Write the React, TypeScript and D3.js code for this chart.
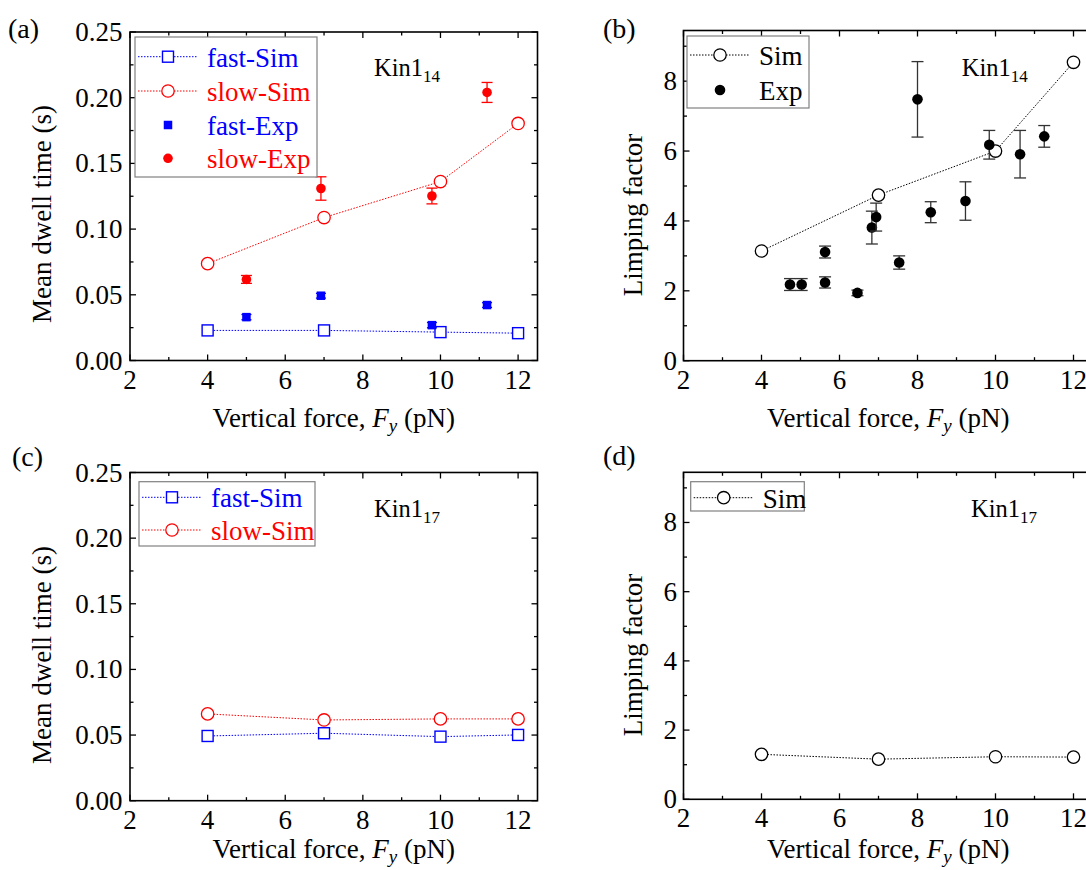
import React from 'react';
import * as d3 from 'd3';

// ---------- data ----------
const xMajor = [2, 4, 6, 8, 10, 12];
const xMinor = [3, 5, 7, 9, 11];
const dwellMajor = [0, 0.05, 0.1, 0.15, 0.2, 0.25];
const dwellMinor = [0.025, 0.075, 0.125, 0.175, 0.225];
const limpMajor = [0, 2, 4, 6, 8];
const limpMinor = [1, 3, 5, 7, 9];

const simForce = [4, 7, 10, 12];

// (a) Kin1_14 dwell times
const aFastSim = [0.0229, 0.0229, 0.0216, 0.0208];
const aSlowSim = [0.0737, 0.1088, 0.1362, 0.1804];
const aExpForce = [5.0, 6.92, 9.78, 11.2];
const aFastExp = [0.033, 0.0493, 0.0269, 0.0422];
const aFastExpErr = [0.002, 0.0018, 0.002, 0.0018];
const aSlowExp = [0.0617, 0.1309, 0.1252, 0.204];
const aSlowExpErr = [0.003, 0.0089, 0.006, 0.0076];

// (b) Kin1_14 limping factor
const bSim = [3.14, 4.74, 6.0, 8.54];
const bExpForce = [4.73, 5.03, 5.63, 5.63, 6.46, 6.83, 6.94, 7.53, 8.0, 8.34, 9.23, 9.84, 10.63, 11.25];
const bExp = [2.18, 2.18, 3.11, 2.24, 1.94, 3.81, 4.11, 2.81, 7.48, 4.25, 4.57, 6.18, 5.91, 6.42];
const bExpErr = [0.17, 0.17, 0.17, 0.16, 0.08, 0.47, 0.4, 0.19, 1.08, 0.3, 0.55, 0.41, 0.68, 0.31];

// (c) Kin1_17 dwell times
const cFastSim = [0.0493, 0.0514, 0.0488, 0.0501];
const cSlowSim = [0.0661, 0.0615, 0.0623, 0.0623];

// (d) Kin1_17 limping factor
const dSim = [1.3, 1.16, 1.23, 1.22];

// ---------- styling ----------
const FONT = '"Liberation Serif", "Times New Roman", Times, serif';
const BLUE = '#0000ff';
const RED = '#ff0000';
const FS = 27;

type Scale = d3.ScaleLinear<number, number>;
type MarkerType = 'openSquare' | 'openCircle' | 'filledSquare' | 'filledCircle';

function Marker({ type, cx, cy, color, r }: { type: MarkerType; cx: number; cy: number; color: string; r?: number }) {
  if (type === 'openSquare') {
    const s = 11;
    return <rect x={cx - s / 2} y={cy - s / 2} width={s} height={s} fill="#fff" stroke={color} strokeWidth={1.4} />;
  }
  if (type === 'openCircle') {
    return <circle cx={cx} cy={cy} r={r ?? 6.2} fill="#fff" stroke={color} strokeWidth={1.3} />;
  }
  if (type === 'filledSquare') {
    const s = 8.5;
    return <rect x={cx - s / 2} y={cy - s / 2} width={s} height={s} fill={color} />;
  }
  return <circle cx={cx} cy={cy} r={r ?? 5} fill={color} />;
}

function Axes({ x, y, yMajor, yMinor, yFmt, yLabelGap }: { x: Scale; y: Scale; yMajor: number[]; yMinor: number[]; yFmt: (v: number) => string; yLabelGap: number }) {
  const [x0, x1] = x.range();
  const [y0, y1] = y.range();
  const L = 6;
  const l = 3.5;
  const tk = { stroke: '#000', strokeWidth: 1.3 };
  return (
    <g>
      {xMajor.concat(xMinor).map((v) => {
        const len = xMajor.includes(v) ? L : l;
        return (
          <g key={'xt' + v}>
            <line x1={x(v)} x2={x(v)} y1={y0} y2={y0 - len} {...tk} />
            <line x1={x(v)} x2={x(v)} y1={y1} y2={y1 + len} {...tk} />
          </g>
        );
      })}
      {yMajor.concat(yMinor).map((v) => {
        const len = yMajor.includes(v) ? L : l;
        return (
          <g key={'yt' + v}>
            <line x1={x0} x2={x0 + len} y1={y(v)} y2={y(v)} {...tk} />
            <line x1={x1} x2={x1 - len} y1={y(v)} y2={y(v)} {...tk} />
          </g>
        );
      })}
      <rect x={x0} y={y1} width={x1 - x0} height={y0 - y1} fill="none" stroke="#000" strokeWidth={1.6} />
      {xMajor.map((v) => (
        <text key={'xl' + v} x={x(v)} y={y0 + 28} textAnchor="middle" fontSize={FS} fontFamily={FONT}>
          {v}
        </text>
      ))}
      {yMajor.map((v) => (
        <text key={'yl' + v} x={x0 - yLabelGap} y={y(v) + 9} textAnchor="end" fontSize={FS} fontFamily={FONT}>
          {yFmt(v)}
        </text>
      ))}
    </g>
  );
}

function XTitle({ cx, y }: { cx: number; y: number }) {
  return (
    <text x={cx} y={y} textAnchor="middle" fontSize={FS} fontFamily={FONT}>
      Vertical force,{' '}
      <tspan fontStyle="italic">F</tspan>
      <tspan fontStyle="italic" fontSize={19} dy={5}>y</tspan>
      <tspan dy={-5}> (pN)</tspan>
    </text>
  );
}

function YTitle({ x, cy, text }: { x: number; cy: number; text: string }) {
  return (
    <text transform={`translate(${x},${cy}) rotate(-90)`} textAnchor="middle" fontSize={FS} fontFamily={FONT}>
      {text}
    </text>
  );
}

function KinLabel({ x, y, sub }: { x: number; y: number; sub: string }) {
  return (
    <text x={x} y={y} fontSize={24.5} fontFamily={FONT}>
      Kin1
      <tspan fontSize={17} dy={6}>{sub}</tspan>
    </text>
  );
}

type LegendItem = { label: string; color: string; textColor: string; marker: MarkerType; line: boolean; r?: number };

function Legend({ x, y, w, h, rowY, items }: { x: number; y: number; w: number; h: number; rowY: number[]; items: LegendItem[] }) {
  const lx0 = x + 3;
  const lx1 = x + 63;
  const mx = (lx0 + lx1) / 2;
  return (
    <g>
      <rect x={x} y={y} width={w} height={h} fill="#fff" stroke="#808080" strokeWidth={1.2} />
      {items.map((it, i) => (
        <g key={it.label}>
          {it.line && <line x1={lx0} x2={lx1} y1={rowY[i]} y2={rowY[i]} stroke={it.color} strokeWidth={1} strokeDasharray="1.5,1.5" />}
          <Marker type={it.marker} cx={mx} cy={rowY[i]} color={it.color} r={it.r} />
          <text x={x + 72} y={rowY[i] + 10} fontSize={FS} fontFamily={FONT} fill={it.textColor}>
            {it.label}
          </text>
        </g>
      ))}
    </g>
  );
}

function SimLine({ x, y, xs, ys, color, marker }: { x: Scale; y: Scale; xs: number[]; ys: number[]; color: string; marker: MarkerType }) {
  const pts = xs.map((v, i) => [v, ys[i]] as [number, number]);
  const path = d3.line<[number, number]>().x((d) => x(d[0])).y((d) => y(d[1]))(pts) || '';
  return (
    <g>
      <path d={path} fill="none" stroke={color} strokeWidth={1} strokeDasharray="1.5,1.5" />
      {pts.map((d, i) => (
        <Marker key={i} type={marker} cx={x(d[0])} cy={y(d[1])} color={color} />
      ))}
    </g>
  );
}

function ErrPoints({ x, y, xs, ys, es, color, errColor, marker, r, cap }: { x: Scale; y: Scale; xs: number[]; ys: number[]; es: number[]; color: string; errColor: string; marker: MarkerType; r?: number; cap: number }) {
  return (
    <g>
      {xs.map((v, i) => {
        const cx = x(v);
        const yt = y(ys[i] + es[i]);
        const yb = y(ys[i] - es[i]);
        return (
          <g key={i}>
            <line x1={cx} x2={cx} y1={yt} y2={yb} stroke={errColor} strokeWidth={1.3} />
            <line x1={cx - cap} x2={cx + cap} y1={yt} y2={yt} stroke={errColor} strokeWidth={1.3} />
            <line x1={cx - cap} x2={cx + cap} y1={yb} y2={yb} stroke={errColor} strokeWidth={1.3} />
            <Marker type={marker} cx={cx} cy={y(ys[i])} color={color} r={r} />
          </g>
        );
      })}
    </g>
  );
}

const fmt2 = d3.format('.2f');
const fmt0 = d3.format('d');

export default function App() {
  // panel geometry
  const leftX: [number, number] = [130, 537.5];
  const rightX: [number, number] = [683.5, 1093];

  const xa = d3.scaleLinear().domain([2, 12.5]).range(leftX);
  const ya = d3.scaleLinear().domain([0, 0.25]).range([360.5, 32]);
  const xb = d3.scaleLinear().domain([2, 12.5]).range(rightX);
  const yb = d3.scaleLinear().domain([0, 9.45]).range([360.7, 30.5]);
  const xc = d3.scaleLinear().domain([2, 12.5]).range(leftX);
  const yc = d3.scaleLinear().domain([0, 0.25]).range([800.7, 472.5]);
  const xd = d3.scaleLinear().domain([2, 12.5]).range(rightX);
  const yd = d3.scaleLinear().domain([0, 9.45]).range([799.3, 472.3]);

  const cxL = (leftX[0] + leftX[1]) / 2;
  const cxR = (rightX[0] + rightX[1]) / 2;

  return (
    <svg width={1086} height={870} style={{ position: 'absolute', left: 0, top: 0, background: '#fff' }} fontFamily={FONT}>
      <rect x={0} y={0} width={1086} height={870} fill="#fff" />

      {/* (a) */}
      <text x={8} y={38} fontSize={28} fontFamily={FONT}>(a)</text>
      <Axes x={xa} y={ya} yMajor={dwellMajor} yMinor={dwellMinor} yFmt={fmt2} yLabelGap={7.5} />
      <SimLine x={xa} y={ya} xs={simForce} ys={aFastSim} color={BLUE} marker="openSquare" />
      <SimLine x={xa} y={ya} xs={simForce} ys={aSlowSim} color={RED} marker="openCircle" />
      <ErrPoints x={xa} y={ya} xs={aExpForce} ys={aFastExp} es={aFastExpErr} color={BLUE} errColor={BLUE} marker="filledSquare" cap={5} />
      <ErrPoints x={xa} y={ya} xs={aExpForce} ys={aSlowExp} es={aSlowExpErr} color={RED} errColor={RED} marker="filledCircle" r={4.8} cap={5.5} />
      <Legend
        x={135}
        y={37}
        w={182}
        h={140}
        rowY={[56.7, 91, 125, 158.3]}
        items={[
          { label: 'fast-Sim', color: BLUE, textColor: BLUE, marker: 'openSquare', line: true },
          { label: 'slow-Sim', color: RED, textColor: RED, marker: 'openCircle', line: true },
          { label: 'fast-Exp', color: BLUE, textColor: BLUE, marker: 'filledSquare', line: false },
          { label: 'slow-Exp', color: RED, textColor: RED, marker: 'filledCircle', line: false, r: 4.8 },
        ]}
      />
      <KinLabel x={374} y={76} sub="14" />
      <YTitle x={51} cy={214} text="Mean dwell time (s)" />
      <XTitle cx={cxL} y={427} />

      {/* (b) */}
      <text x={603} y={38} fontSize={28} fontFamily={FONT}>(b)</text>
      <Axes x={xb} y={yb} yMajor={limpMajor} yMinor={limpMinor} yFmt={fmt0} yLabelGap={6.5} />
      <SimLine x={xb} y={yb} xs={simForce} ys={bSim} color="#000" marker="openCircle" />
      <ErrPoints x={xb} y={yb} xs={bExpForce} ys={bExp} es={bExpErr} color="#000" errColor="#333" marker="filledCircle" r={5.3} cap={6} />
      <Legend
        x={687}
        y={36}
        w={122}
        h={72}
        rowY={[55, 90]}
        items={[
          { label: 'Sim', color: '#000', textColor: '#000', marker: 'openCircle', line: true },
          { label: 'Exp', color: '#000', textColor: '#000', marker: 'filledCircle', line: false, r: 5.3 },
        ]}
      />
      <KinLabel x={961.7} y={76} sub="14" />
      <YTitle x={641.7} cy={215} text="Limping factor" />
      <XTitle cx={cxR} y={427} />

      {/* (c) */}
      <text x={12} y={466} fontSize={28} fontFamily={FONT}>(c)</text>
      <Axes x={xc} y={yc} yMajor={dwellMajor} yMinor={dwellMinor} yFmt={fmt2} yLabelGap={7.5} />
      <SimLine x={xc} y={yc} xs={simForce} ys={cFastSim} color={BLUE} marker="openSquare" />
      <SimLine x={xc} y={yc} xs={simForce} ys={cSlowSim} color={RED} marker="openCircle" />
      <Legend
        x={139}
        y={481.7}
        w={176}
        h={64.3}
        rowY={[497.3, 530]}
        items={[
          { label: 'fast-Sim', color: BLUE, textColor: BLUE, marker: 'openSquare', line: true },
          { label: 'slow-Sim', color: RED, textColor: RED, marker: 'openCircle', line: true },
        ]}
      />
      <KinLabel x={374} y={517} sub="17" />
      <YTitle x={51} cy={655} text="Mean dwell time (s)" />
      <XTitle cx={cxL} y={858} />

      {/* (d) */}
      <text x={603} y={465} fontSize={28} fontFamily={FONT}>(d)</text>
      <Axes x={xd} y={yd} yMajor={limpMajor} yMinor={limpMinor} yFmt={fmt0} yLabelGap={6.5} />
      <SimLine x={xd} y={yd} xs={simForce} ys={dSim} color="#000" marker="openCircle" />
      <Legend
        x={690.7}
        y={481.7}
        w={113.6}
        h={29.3}
        rowY={[497.7]}
        items={[{ label: 'Sim', color: '#000', textColor: '#000', marker: 'openCircle', line: true }]}
      />
      <KinLabel x={971} y={517} sub="17" />
      <YTitle x={641.7} cy={655} text="Limping factor" />
      <XTitle cx={cxR} y={858} />
    </svg>
  );
}
